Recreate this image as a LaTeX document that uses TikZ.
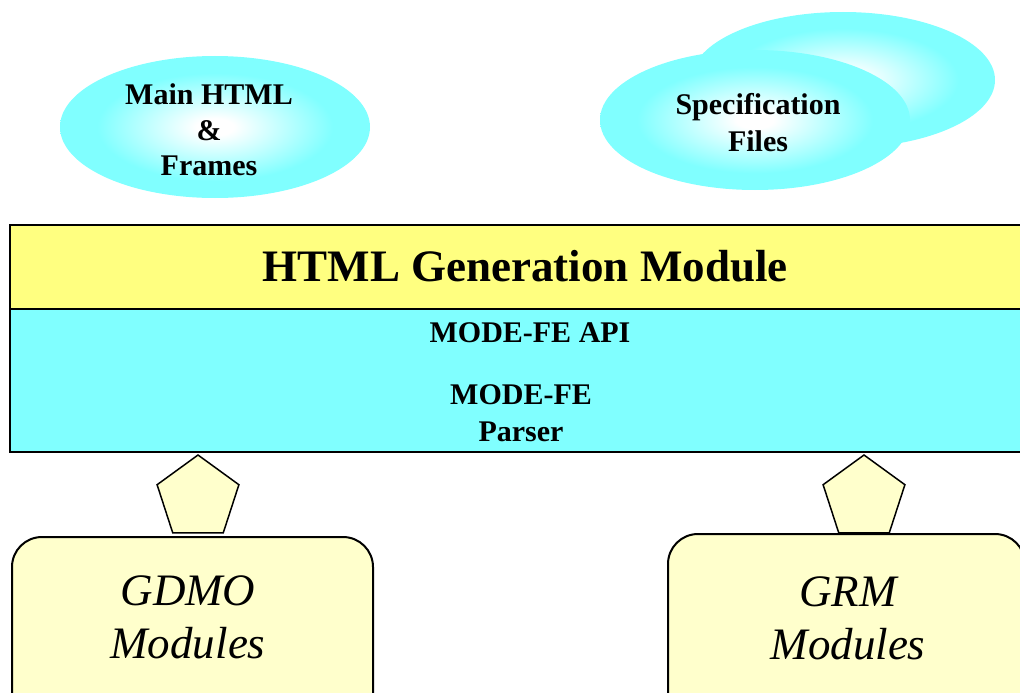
\documentclass[tikz,border=0pt]{standalone}
\usepackage{fontspec}
\setmainfont{Liberation Serif}
\usetikzlibrary{shapes.geometric}
\definecolor{ellcyan}{RGB}{128,255,255}
\definecolor{apicyan}{RGB}{128,255,255}
\definecolor{genyellow}{RGB}{255,255,128}
\definecolor{modyellow}{RGB}{255,255,204}
\pgfdeclareradialshading{ellshade}{\pgfpoint{0bp}{0bp}}{color(0bp)=(white); color(3bp)=(white); color(19bp)=(ellcyan); color(50bp)=(ellcyan)}
\tikzset{
  ell/.style={ellipse, shading=ellshade, inner sep=0pt},
  layer/.style={draw=black, line width=2pt, inner sep=0pt, rectangle},
  smalltext/.style={align=center, font=\fontsize{30}{37}\selectfont\bfseries},
  bigtext/.style={font=\fontsize{45}{54}\selectfont\bfseries},
  modbox/.style={draw=black, line width=2pt, fill=modyellow, rounded corners=30pt, inner sep=0pt},
  modtext/.style={align=center, font=\fontsize{45}{53}\selectfont\itshape},
  iface/.style={regular polygon, regular polygon sides=5, minimum size=86pt, inner sep=0pt,
    draw=black, line width=1.5pt, fill=modyellow}
}
\begin{document}
\begin{tikzpicture}[x=1pt,y=-1pt]
\useasboundingbox (0,0) rectangle (1020,693);
\clip (0,0) rectangle (1020,693);
\fill[white] (0,0) rectangle (1020,693);
% ellipses
\node[ell, minimum width=310pt, minimum height=142pt] (mainhtml) at (215,127) {};
\node[smalltext, font=\fontsize{30}{35.5}\selectfont\bfseries] (maintext) at (209,130) {Main HTML\\\&\\Frames};
\node[ell, minimum width=304pt, minimum height=136pt] (specback) at (843,80) {};
\node[ell, minimum width=310pt, minimum height=140pt] (specfront) at (755,120) {};
\node[smalltext] (spectext) at (758,123) {Specification\\Files};
% layers
\node[layer, fill=genyellow, minimum width=1014pt, minimum height=84pt] (gen) at (517,267) {};
\node[bigtext] (gentext) at (525,266) {HTML Generation Module};
\node[layer, fill=apicyan, minimum width=1014pt, minimum height=143pt] (api) at (517,380.5) {};
\node[smalltext] (apitext) at (530,333) {MODE-FE API};
\node[smalltext] (parser) at (521,413) {MODE-FE\\Parser};
% module boxes
\node[modbox, minimum width=361pt, minimum height=220pt] (gdmo) at (192.5,647) {};
\node[modtext] (gdmotext) at (188,617) {GDMO\\Modules};
\node[modbox, minimum width=357pt, minimum height=220pt] (grm) at (846.5,644) {};
\node[modtext] (grmtext) at (848,618) {GRM\\Modules};
% interface pentagons
\node[iface] (ifl) at (198,498) {};
\node[iface] (ifr) at (864,498) {};
\end{tikzpicture}
\end{document}
